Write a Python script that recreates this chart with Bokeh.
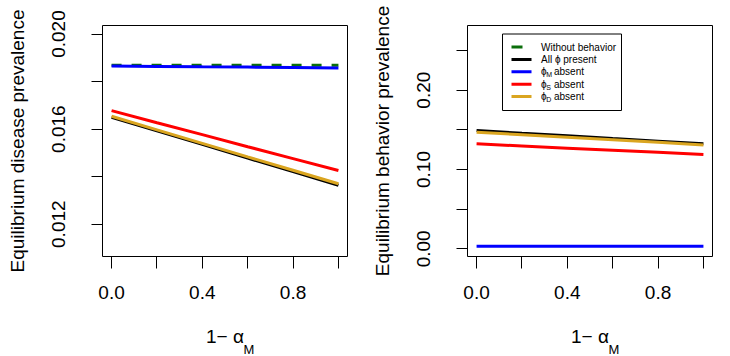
from bokeh.plotting import figure
from bokeh.layouts import row
from bokeh.models import (Range1d, FixedTicker, Label, BoxAnnotation, Arrow, Title)
from bokeh.embed import file_html
from bokeh.resources import INLINE

# ---------------- data ----------------
x_vals = [0.0, 0.2, 0.4, 0.6, 0.8, 1.0]

# Left panel: equilibrium disease prevalence
dis_without = [0.01869, 0.01869, 0.01869, 0.01869, 0.01869, 0.01869]
dis_all     = [0.01650, 0.01593, 0.01536, 0.01478, 0.01421, 0.01364]
dis_phiM    = [0.01866, 0.01864, 0.01862, 0.01861, 0.01859, 0.01857]
dis_phiS    = [0.01678, 0.01627, 0.01577, 0.01526, 0.01476, 0.01426]
dis_phiD    = [0.01654, 0.01597, 0.01540, 0.01483, 0.01427, 0.01370]

# Right panel: equilibrium behavior prevalence
beh_all  = [0.1491, 0.1457, 0.1424, 0.1390, 0.1357, 0.1323]
beh_phiM = [0.0033, 0.0033, 0.0033, 0.0033, 0.0033, 0.0033]
beh_phiS = [0.1323, 0.1296, 0.1269, 0.1243, 0.1216, 0.1189]
beh_phiD = [0.1470, 0.1438, 0.1406, 0.1374, 0.1342, 0.1310]

x_ticks = [0.0, 0.2, 0.4, 0.6, 0.8, 1.0]
x_tick_labels = ["0.0", "", "0.4", "", "0.8", ""]
yl_ticks = [0.012, 0.014, 0.016, 0.018, 0.020]
yl_tick_labels = ["0.012", "", "0.016", "", "0.020"]
yr_ticks = [0.0, 0.05, 0.10, 0.15, 0.20, 0.25]
yr_tick_labels = ["0.00", "", "0.10", "", "0.20", ""]

legend_labels = ["Without behavior", "All \u03d5 present", "\u03d5", "\u03d5", "\u03d5"]
legend_subs = ["", "", "M", "S", "D"]
legend_colors = ["#0b6e0b", "black", "blue", "red", "#DAA520"]

GREEN, BLACK, BLUE, RED, GOLD = legend_colors
FONT = "Liberation Sans"


def base_fig(ylo, yhi, yticks, ylabels, ylab):
    p = figure(width=365, height=356,
               frame_width=245, frame_height=231,
               x_range=Range1d(-0.04, 1.04), y_range=Range1d(ylo, yhi),
               output_backend="svg", toolbar_location=None,
               min_border_left=102, min_border_right=18,
               min_border_top=25, min_border_bottom=100)
    p.grid.visible = False
    p.outline_line_color = "black"
    p.outline_line_width = 1
    p.outline_line_alpha = 1
    p.background_fill_color = "white"
    p.border_fill_color = "white"
    for ax in (p.xaxis[0], p.yaxis[0]):
        ax.axis_line_color = None
        ax.major_tick_line_color = "black"
        ax.major_tick_line_width = 1
        ax.major_tick_in = 0
        ax.minor_tick_line_color = None
        ax.major_label_text_font = FONT
        ax.major_label_text_font_size = "19px"
        ax.major_label_text_color = "black"
        ax.axis_label_text_font = FONT
        ax.axis_label_text_font_size = "19px"
        ax.axis_label_text_font_style = "normal"
        ax.axis_label_text_color = "black"
    p.xaxis.ticker = FixedTicker(ticks=x_ticks)
    p.xaxis.major_label_overrides = {t: s for t, s in zip(x_ticks, x_tick_labels)}
    p.xaxis.major_tick_out = 12
    p.xaxis.major_label_standoff = 17
    # x axis label: 1 - alpha_M (main part as axis label, subscript as a title below)
    p.xaxis.axis_label = "1\u2212 \u03b1"
    p.xaxis.axis_label_standoff = 24
    p.yaxis.ticker = FixedTicker(ticks=yticks)
    p.yaxis.major_label_overrides = {t: s for t, s in zip(yticks, ylabels)}
    p.yaxis.major_tick_out = 11
    p.yaxis.major_label_standoff = 26
    p.yaxis.major_label_orientation = "vertical"
    p.yaxis.axis_label = ylab
    p.yaxis.axis_label_standoff = 22
    p.add_layout(Title(text="M", align="left", offset=141, standoff=-16,
                       vertical_align="top",
                       text_font=FONT, text_font_size="13px", text_font_style="normal",
                       text_color="black"), "below")
    return p


# ---------------- left panel ----------------
p1 = base_fig(0.01064, 0.02036, yl_ticks, yl_tick_labels,
              "Equilibrium disease prevalence")
p1.line(x_vals, dis_without, line_color=GREEN, line_width=3, line_dash="10 10")
p1.line(x_vals, dis_all, line_color=BLACK, line_width=3)
p1.line(x_vals, dis_phiM, line_color=BLUE, line_width=3)
p1.line(x_vals, dis_phiS, line_color=RED, line_width=3)
p1.line(x_vals, dis_phiD, line_color=GOLD, line_width=3)

# ---------------- right panel ----------------
p2 = base_fig(-0.0097, 0.2815, yr_ticks, yr_tick_labels,
              "Equilibrium behavior prevalence")
p2.line(x_vals, beh_all, line_color=BLACK, line_width=3)
p2.line(x_vals, beh_phiM, line_color=BLUE, line_width=3)
p2.line(x_vals, beh_phiS, line_color=RED, line_width=3)
p2.line(x_vals, beh_phiD, line_color=GOLD, line_width=3)

# legend (manual, to allow subscripts)
p2.add_layout(BoxAnnotation(left=35, right=154, top=222.5, bottom=146,
                            left_units="screen", right_units="screen",
                            top_units="screen", bottom_units="screen",
                            fill_color="white", fill_alpha=1,
                            line_color="black", line_width=1, line_alpha=1))
for i, (lab, sub, col) in enumerate(zip(legend_labels, legend_subs, legend_colors)):
    yy = 209.5 - i * 12.4
    dash = "11 12" if i == 0 else "solid"
    p2.add_layout(Arrow(end=None, x_start=44, x_end=64, y_start=yy, y_end=yy,
                        start_units="screen", end_units="screen",
                        line_color=col, line_width=3, line_dash=dash))
    p2.add_layout(Label(x=73.5, y=yy, x_units="screen", y_units="screen",
                        text=lab, text_baseline="middle", text_align="left",
                        text_font=FONT, text_font_size="10px", text_color="black"))
    if sub:
        p2.add_layout(Label(x=78.8, y=yy - 3, x_units="screen", y_units="screen",
                            text=sub, text_baseline="middle", text_align="left",
                            text_font=FONT, text_font_size="7px", text_color="black"))
        p2.add_layout(Label(x=86.5, y=yy, x_units="screen", y_units="screen",
                            text="absent", text_baseline="middle", text_align="left",
                            text_font=FONT, text_font_size="10px", text_color="black"))

layout = row(p1, p2)
open("out.html", "w").write(file_html(layout, INLINE))
